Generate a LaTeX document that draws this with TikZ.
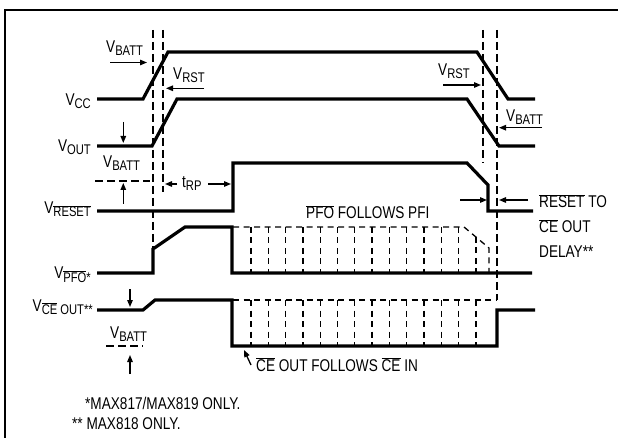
\documentclass[tikz,border=0pt]{standalone}
\usepackage{fontspec}
\setmainfont{Liberation Sans}[FakeStretch=0.8]
\usetikzlibrary{arrows.meta}
\newcommand\sbs[1]{\raisebox{-3pt}{\fontsize{14pt}{14pt}\selectfont #1}}
\newcommand\ovl[1]{\ensuremath{\overline{\hbox{#1}}}}
\begin{document}
\begin{tikzpicture}[x=1pt,y=-1pt,
  sig/.style={line width=3.2pt,line join=miter,line cap=butt},
  guide/.style={line width=1.3pt,dash pattern=on 8pt off 4pt},
  hatch/.style={line width=1.3pt,dash pattern=on 6pt off 4.5pt},
  arr/.style={line width=1.3pt,-{Triangle[length=7pt,width=5.5pt]}},
  lbl/.style={inner sep=0pt,font=\fontsize{17pt}{17pt}\selectfont}]
\useasboundingbox (0,0) rectangle (618,438);
\draw[line width=2pt] (5,10) rectangle (625,445);
% hatch regions
\foreach \k in {0,...,12} \draw[hatch] ({251+17.3*\k},227) -- ({251+17.3*\k},273);
\draw[hatch] (233,227) -- (464,227) -- (489,248) -- (489,273);
\draw[hatch] (476,237) -- (476,273);
\foreach \k in {0,...,13} \draw[hatch] ({251+17.3*\k},300) -- ({251+17.3*\k},346);
\draw[hatch] (233,300) -- (497,300);
% guides
\draw[guide] (153,30) -- (153,249);
\draw[guide] (163,30) -- (163,192);
\draw[guide] (483,30) -- (483,163);
\draw[guide] (497,30) -- (497,300);
\draw[guide] (95,181) -- (150,181);
\draw[guide] (106,346) -- (143,346);
% signals
\draw[sig] (97,99) -- (143,99) -- (168,52) -- (477,52) -- (508,99) -- (535,99);
\draw[sig] (97,146) -- (152,146) -- (177,99) -- (467,99) -- (499,146) -- (535,146);
\draw[sig] (97,211) -- (233,211) -- (233,163) -- (467,163) -- (488,185) -- (488,211) -- (533,211);
\draw[sig] (97,273) -- (153,273) -- (153,249) -- (185,227) -- (232,227) -- (232,273) -- (532,273);
\draw[sig] (97,310) -- (143,310) -- (155,300) -- (232,300) -- (232,346) -- (497,346) -- (497,310) -- (535,310);
% arrows
\draw[arr] (110,62.5) -- (147,62.5);
\draw[arr] (204,88.3) -- (166,88.3);
\draw[arr] (123.3,122) -- (123.3,143);
\draw[arr] (123.3,204) -- (123.3,183);
\draw[arr] (177,184) -- (165,184);
\draw[arr] (208,184) -- (231,184);
\draw[arr] (443,85) -- (481,85);
\draw[arr] (542,127.7) -- (499,127.7);
\draw[arr] (460,200) -- (487,200);
\draw[arr] (528,200) -- (499,200);
\draw[arr] (130,289) -- (130,307);
\draw[arr] (130,374) -- (130,355);
\draw[arr] (251,365) -- (244,350);
% labels
\node[lbl,anchor=base east] (vcc) at (91,106) {V\sbs{CC}};
\node[lbl,anchor=base east] (vout) at (91,152) {V\sbs{OUT}};
\node[lbl,anchor=base east] (vrst) at (91,214) {V\sbs{\ovl{RESET}}};
\node[lbl,anchor=base east] (vpfo) at (91,279) {V\sbs{\ovl{PFO}*}};
\node[lbl,anchor=base east] (vce) at (93,311) {V\sbs{\ovl{CE} OUT**}};
\node[lbl,anchor=base west] (vb1) at (106,53) {V\sbs{BATT}};
\node[lbl,anchor=base west] (vrs1) at (173,80) {V\sbs{RST}};
\node[lbl,anchor=base west] (vb2) at (103,168) {V\sbs{BATT}};
\node[lbl,anchor=base west] (trp) at (182,188) {t\sbs{RP}};
\node[lbl,anchor=base west] (vrs2) at (438,76) {V\sbs{RST}};
\node[lbl,anchor=base west] (vb3) at (506,122) {V\sbs{BATT}};
\node[lbl,anchor=base west] (rt1) at (539,208) {\ovl{RESET} TO};
\node[lbl,anchor=base west] (rt2) at (539,233) {\ovl{CE} OUT};
\node[lbl,anchor=base west] (rt3) at (539,258) {DELAY**};
\node[lbl,anchor=base west] (pff) at (306,219) {\ovl{PFO} FOLLOWS PFI};
\node[lbl,anchor=base west] (cef) at (256,371) {\ovl{CE} OUT FOLLOWS \ovl{CE} IN};
\node[lbl,anchor=base west] (vb4) at (110,338) {V\sbs{BATT}};
\node[lbl,anchor=base west] (fn1) at (85,409) {*MAX817/MAX819 ONLY.};
\node[lbl,anchor=base west] (fn2) at (72,429) {** MAX818 ONLY.};
\end{tikzpicture}
\end{document}
